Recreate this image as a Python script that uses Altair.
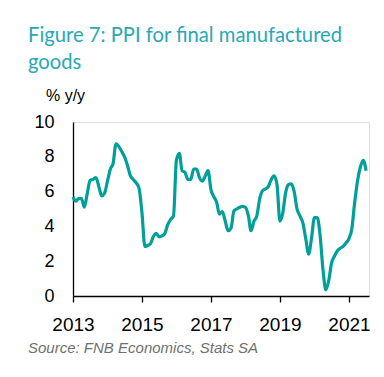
import altair as alt
import pandas as pd

# PPI for final manufactured goods, % y/y, monthly from Jan 2013
ppi_2013 = [5.7, 5.45, 5.6, 5.6, 5.1, 5.9, 6.65, 6.7, 6.8, 6.3, 5.75, 5.9]
ppi_2014 = [6.6, 7.3, 7.6, 8.75, 8.6, 8.3, 8.0, 7.5, 6.9, 6.7, 6.5, 6.2]
ppi_2015 = [4.8, 2.85, 2.9, 3.0, 3.4, 3.6, 3.4, 3.45, 3.6, 4.1, 4.4, 4.6]
ppi_2016 = [7.8, 8.2, 7.2, 7.1, 6.7, 6.7, 7.3, 7.3, 6.8, 6.6, 6.9, 7.2]
ppi_2017 = [6.1, 5.7, 5.4, 4.7, 4.85, 4.3, 3.75, 3.9, 4.9, 5.0, 5.1, 5.15]
ppi_2018 = [5.1, 4.6, 3.75, 4.3, 4.6, 5.6, 6.05, 6.15, 6.3, 6.7, 6.9, 6.4]
ppi_2019 = [4.3, 4.8, 5.9, 6.4, 6.45, 6.0, 5.0, 4.6, 4.2, 3.3, 2.4, 3.3]
ppi_2020 = [4.5, 4.5, 3.5, 1.5, 0.35, 0.9, 1.9, 2.3, 2.6, 2.75, 2.85, 3.05]
ppi_2021 = [3.3, 3.9, 5.3, 6.6, 7.4, 7.8, 7.2]

values = ppi_2013 + ppi_2014 + ppi_2015 + ppi_2016 + ppi_2017 + ppi_2018 + ppi_2019 + ppi_2020 + ppi_2021
tick_years = [2013, 2015, 2017, 2019, 2021]
y_ticks = [0, 2, 4, 6, 8, 10]

df = pd.DataFrame({
    "date": pd.date_range("2013-01-01", periods=len(values), freq="MS").strftime("%Y-%m-%d"),
    "ppi": values,
})

TEAL = "#00a09a"
TITLE_TEAL = "#28a9b5"
FONT = "Liberation Sans"

line = alt.Chart(df).mark_line(
    color=TEAL, strokeWidth=3.2, interpolate="monotone"
).encode(
    x=alt.X(
        "date:T",
        scale=alt.Scale(domain=[alt.DateTime(year=2013, month=1, date=1),
                                alt.DateTime(year=2021, month=8, date=1)]),
        axis=alt.Axis(
            values=[alt.DateTime(year=y, month=1, date=1) for y in tick_years],
            format="%Y", title=None, grid=False,
            domainColor="black", domainWidth=1.3,
            tickColor="black", tickWidth=1.3, tickSize=6,
            labelFont=FONT, labelFontSize=19, labelColor="black",
            labelPadding=13, labelFlush=False, labelOverlap=False,
        ),
    ),
    y=alt.Y(
        "ppi:Q",
        scale=alt.Scale(domain=[0, 10], nice=False, zero=True),
        axis=alt.Axis(
            values=y_ticks, title=None, grid=False,
            domainColor="black", domainWidth=1.3,
            ticks=False, tickSize=0,
            labelFont=FONT, labelFontSize=18, labelColor="black",
            labelPadding=19, labelFlush=False, labelOverlap=False,
        ),
    ),
)

title1 = alt.Chart(pd.DataFrame({"t": ["Figure 7: PPI for final manufactured"]})).mark_text(
    align="left", baseline="alphabetic", font="Lato", fontSize=20.2,
    color=TITLE_TEAL
).encode(text="t:N", x=alt.value(-45), y=alt.value(-80))
title2 = alt.Chart(pd.DataFrame({"t": ["goods"]})).mark_text(
    align="left", baseline="alphabetic", font="Lato", fontSize=20.2,
    color=TITLE_TEAL
).encode(text="t:N", x=alt.value(-45), y=alt.value(-53))
unit = alt.Chart(pd.DataFrame({"t": ["% y/y"]})).mark_text(
    align="left", baseline="alphabetic", font=FONT, fontSize=16, color="black"
).encode(text="t:N", x=alt.value(-27), y=alt.value(-21))
source = alt.Chart(pd.DataFrame({"t": ["Source: FNB Economics, Stats SA"]})).mark_text(
    align="left", baseline="alphabetic", font=FONT, fontSize=15, fontStyle="italic",
    color="#707070"
).encode(text="t:N", x=alt.value(-45), y=alt.value(231))

chart = alt.layer(line, title1, title2, unit, source).properties(
    width=296, height=174,
    autosize=alt.AutoSizeParams(type="none"),
    padding={"left": 65, "top": 114, "right": 7, "bottom": 73},
).configure_view(stroke=None).configure(background="white")

chart.save("out.html", embed_options={"renderer": "svg", "actions": False})
